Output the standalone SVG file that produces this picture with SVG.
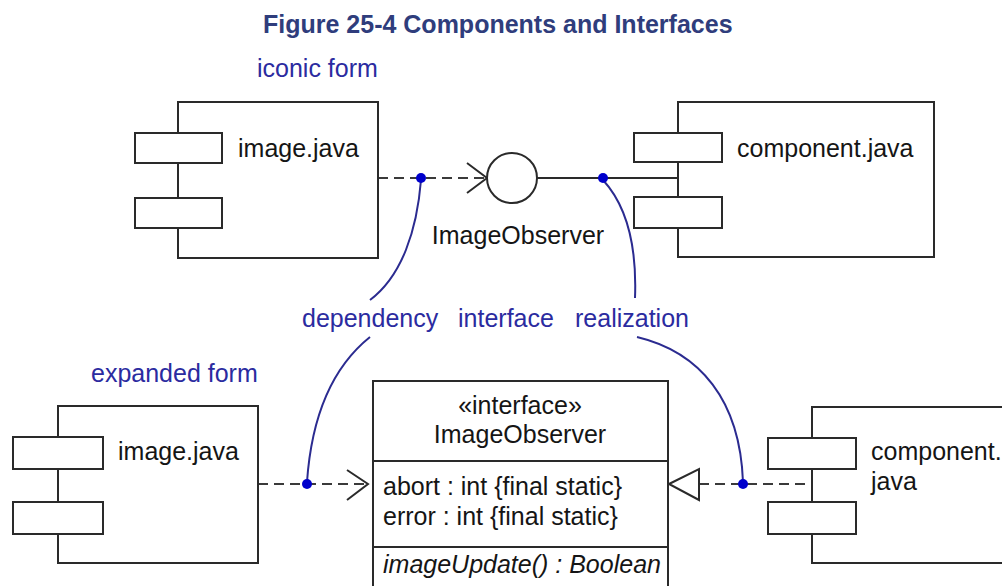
<svg xmlns="http://www.w3.org/2000/svg" width="1002" height="586" viewBox="0 0 1002 586">
<style>
.t{font-family:"Liberation Sans",Arial,sans-serif;font-size:25px;fill:#151515}
.b{font-family:"Liberation Sans",Arial,sans-serif;font-size:25px;fill:#2b2ba0}
.title{font-family:"Liberation Sans",Arial,sans-serif;font-size:25px;font-weight:bold;fill:#2f3d7c}
.box{fill:#fff;stroke:#2a2a2a;stroke-width:2}
.ln{fill:none;stroke:#2a2a2a;stroke-width:2}
.dash{fill:none;stroke:#3a3a3a;stroke-width:2;stroke-dasharray:10 6}
.note{fill:none;stroke:#2b2b90;stroke-width:2}
.dot{fill:#0000cc}
</style>
<rect width="1002" height="586" fill="#fff"/>
<text class="title" x="263" y="33">Figure 25-4 Components and Interfaces</text>
<text class="b" x="257" y="77">iconic form</text>
<text class="b" x="91" y="382">expanded form</text>

<g id="connectors">
  <line class="dash" x1="378" y1="178" x2="486" y2="178"/>
  <polyline class="ln" points="467,163 487,178 467,193"/>
  <line class="ln" x1="537" y1="178" x2="678" y2="178"/>
  <line class="dash" x1="258" y1="484" x2="367" y2="484"/>
  <polyline class="ln" points="347,470 368,484 347,500"/>
  <line class="dash" x1="699" y1="484" x2="810" y2="484"/>
  <polygon class="box" points="669,484 699,469 699,500"/>
</g>

<g id="image-top">
  <rect class="box" x="178" y="102" width="200" height="156"/>
  <rect class="box" x="135" y="133" width="87" height="30"/>
  <rect class="box" x="135" y="198" width="87" height="30"/>
  <text class="t" x="238" y="157">image.java</text>
</g>
<g id="interface-icon">
  <circle class="box" cx="512" cy="178" r="25"/>
  <text class="t" x="518" y="244" text-anchor="middle">ImageObserver</text>
</g>
<g id="component-top">
  <rect class="box" x="678" y="102" width="256" height="155"/>
  <rect class="box" x="634" y="133" width="88" height="29"/>
  <rect class="box" x="634" y="197" width="88" height="31"/>
  <text class="t" x="737" y="157">component.java</text>
</g>

<g id="image-bottom">
  <rect class="box" x="58" y="406" width="200" height="157"/>
  <rect class="box" x="13" y="437" width="90" height="32"/>
  <rect class="box" x="13" y="502" width="90" height="32"/>
  <text class="t" x="118" y="460">image.java</text>
</g>
<g id="interface-class">
  <rect class="box" x="373" y="381" width="295" height="215"/>
  <line class="ln" x1="373" y1="461" x2="668" y2="461"/>
  <line class="ln" x1="373" y1="547" x2="668" y2="547"/>
  <text class="t" x="520" y="414" text-anchor="middle">«interface»</text>
  <text class="t" x="520" y="443" text-anchor="middle">ImageObserver</text>
  <text class="t" x="383" y="495">abort : int {final static}</text>
  <text class="t" x="383" y="525">error : int {final static}</text>
  <text class="t" x="383" y="573" font-style="italic">imageUpdate() : Boolean</text>
</g>
<g id="component-bottom">
  <rect class="box" x="812" y="407" width="200" height="156"/>
  <rect class="box" x="768" y="438" width="88" height="31"/>
  <rect class="box" x="768" y="502" width="88" height="32"/>
  <text class="t" x="871" y="460">component.</text>
  <text class="t" x="871" y="490">java</text>
</g>

<g id="annotations">
  <path class="note" d="M421,180 C417,230 402,276 370,300"/>
  <path class="note" d="M370,337 C335,365 312,410 307,482"/>
  <path class="note" d="M603,180 C626,205 637,245 635,298"/>
  <path class="note" d="M637,337 C700,352 740,400 743,482"/>
  <circle class="dot" cx="421" cy="178" r="5"/>
  <circle class="dot" cx="603" cy="178" r="5"/>
  <circle class="dot" cx="307" cy="484" r="5"/>
  <circle class="dot" cx="743" cy="484" r="5"/>
  <text class="b" x="302" y="327">dependency</text>
  <text class="b" x="458" y="327">interface</text>
  <text class="b" x="575" y="327">realization</text>
</g>
</svg>
